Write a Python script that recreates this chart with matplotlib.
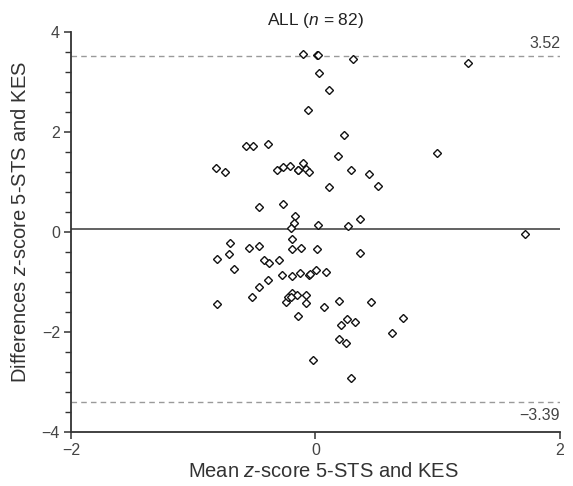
import matplotlib
matplotlib.use("Agg")
import matplotlib.pyplot as plt
from matplotlib.ticker import MultipleLocator

plt.rcParams["font.family"] = ["Liberation Sans", "DejaVu Sans"]
plt.rcParams["mathtext.fontset"] = "custom"
plt.rcParams["mathtext.rm"] = "Liberation Sans"
plt.rcParams["mathtext.it"] = "Liberation Sans:italic"

# mean of the two z-scores (x) and their difference (y)
mean_z = [
    -0.105, 0.015, 0.304, 1.245, 0.026, 0.113, -0.061, 0.233, -0.571, -0.509,
    -0.386, 0.991, 0.187, -0.816, -0.743, -0.311, -0.262, -0.206, -0.141, -0.102,
    -0.074, -0.057, 0.294, 0.439, 0.509, 0.108, -0.460, -0.268, -0.164, -0.174,
    -0.203, 0.020, 0.266, 0.364, 1.714, -0.190, -0.699, -0.540, -0.460, -0.807,
    -0.709, -0.669, -0.421, -0.378, -0.300, -0.196, -0.120, 0.010, 0.368, -0.276,
    -0.196, -0.124, -0.051, 0.007, 0.086, -0.386, -0.465, -0.519, -0.803, -0.245,
    -0.225, -0.192, -0.151, -0.078, -0.079, -0.141, 0.070, 0.190, 0.452, 0.255,
    0.206, 0.323, 0.718, 0.624, 0.195, 0.252, -0.018, 0.288, -0.140, -0.200,
    -0.045, 0.020,
]
diff_z = [
    3.560, 3.546, 3.460, 3.390, 3.180, 2.846, 2.446, 1.946, 1.726, 1.726,
    1.766, 1.580, 1.526, 1.280, 1.212, 1.246, 1.316, 1.320, 1.246, 1.396,
    1.266, 1.216, 1.256, 1.162, 0.926, 0.916, 0.502, 0.560, 0.330, 0.192,
    0.086, 0.156, 0.132, 0.262, -0.034, -0.124, -0.214, -0.304, -0.268, -0.534,
    -0.438, -0.728, -0.550, -0.608, -0.548, -0.328, -0.310, -0.334, -0.408, -0.860,
    -0.878, -0.814, -0.854, -0.748, -0.788, -0.954, -1.094, -1.298, -1.430, -1.390,
    -1.294, -1.220, -1.260, -1.260, -1.408, -1.670, -1.498, -1.374, -1.402, -1.730,
    -1.860, -1.788, -1.704, -2.008, -2.140, -2.220, -2.554, -2.914, 1.250, -1.300,
    -0.830, 3.540,
]

upper_loa = 3.52
lower_loa = -3.39
mean_diff = (upper_loa + lower_loa) / 2

fig = plt.figure(figsize=(5.73, 4.86), dpi=100)
ax = fig.add_axes([0.1239, 0.1105, 0.8534, 0.823])

ax.plot([-2, 2], [upper_loa, upper_loa], color="#9a9a9a", lw=1.0,
        dashes=(4, 3))
ax.plot([-2, 2], [lower_loa, lower_loa], color="#9a9a9a", lw=1.0,
        dashes=(4, 3))
ax.plot([-2, 2], [mean_diff, mean_diff], color="#555555", lw=1.3)

ax.plot(mean_z, diff_z, linestyle="none", marker="D", markersize=4.0,
        markerfacecolor="white", markeredgecolor="#111111",
        markeredgewidth=1.0, clip_on=False)

ax.text(2, upper_loa + 0.1, "3.52", ha="right", va="bottom",
        fontsize=11.5, color="#444444")
ax.text(2, lower_loa - 0.12, "\u22123.39", ha="right", va="top",
        fontsize=11.5, color="#444444")

ax.set_xlim(-2, 2)
ax.set_ylim(-4, 4)
ax.set_xticks([-2, 0, 2])
ax.set_xticklabels(["\u22122", "0", "2"])
ax.set_yticks([-4, -2, 0, 2, 4])
ax.set_yticklabels(["\u22124", "\u22122", "0", "2", "4"])
ax.yaxis.set_minor_locator(MultipleLocator(0.4))

for side in ["top", "right"]:
    ax.spines[side].set_visible(False)
for side in ["left", "bottom"]:
    ax.spines[side].set_color("#333333")
    ax.spines[side].set_linewidth(1.3)

ax.tick_params(axis="both", which="major", length=5, width=1.1,
               color="#333333", labelsize=11.5, labelcolor="#444444", pad=3)
ax.tick_params(axis="y", which="minor", length=4, width=1.0, color="#333333")

ax.set_title("ALL ($\\it{n}$ = 82)", fontsize=12.5, color="#222222", pad=5)
ax.set_xlabel("Mean $\\it{z}$-score 5-STS and KES", fontsize=14.5,
              color="#333333")
ax.set_ylabel("Differences $\\it{z}$-score 5-STS and KES", fontsize=14.5,
              color="#333333")
ax.xaxis.set_label_coords(0.515, -0.075)
ax.yaxis.set_label_coords(-0.083, 0.525)

fig.savefig("out.png", dpi=100)
